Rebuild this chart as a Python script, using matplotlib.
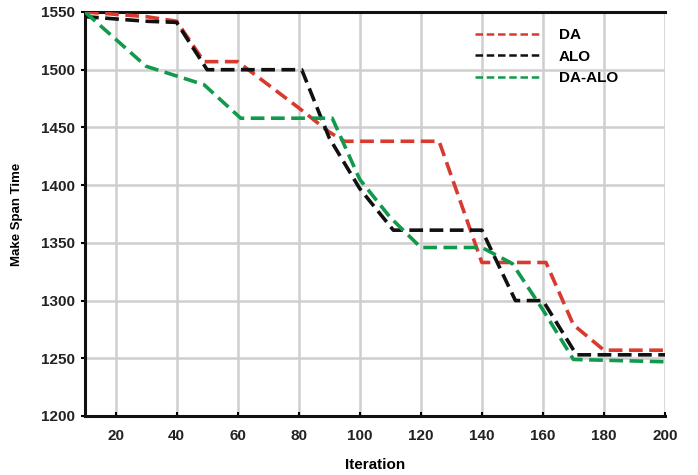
import matplotlib
matplotlib.use("Agg")
import matplotlib.pyplot as plt

plt.rcParams['font.family'] = ['Liberation Sans', 'DejaVu Sans']

# DA series (corners)
da_x = [10, 20, 30, 40, 49, 60, 70, 80, 90, 95, 126, 140, 161, 170, 180, 200]
da_y = [1550, 1548, 1546, 1542, 1507, 1507, 1487, 1467, 1446, 1438, 1438, 1333, 1333, 1279, 1257, 1257]

# ALO series
alo_x = [10, 20, 30, 40, 50, 81, 90, 100, 111, 140, 151, 160, 171, 200]
alo_y = [1546, 1544, 1542, 1541, 1500, 1500, 1441, 1397, 1361, 1361, 1300, 1300, 1253, 1253]

# DA-ALO series
daalo_x = [10, 30, 49, 61, 91, 100, 110, 120, 140, 150, 160, 170, 200]
daalo_y = [1550, 1503, 1487, 1458, 1458, 1405, 1372, 1346, 1346, 1332, 1292, 1249, 1247]

series_labels = ["DA", "ALO", "DA-ALO"]
series_colors = ["#d93a2f", "#111111", "#119a4c"]

x_ticks = [20, 40, 60, 80, 100, 120, 140, 160, 180, 200]
y_ticks = [1200, 1250, 1300, 1350, 1400, 1450, 1500, 1550]

fig = plt.figure(figsize=(6.98, 4.75), dpi=100)
ax = fig.add_axes([85/698, 1-416/475, 580/698, 404/475])

for xs, ys, lab, col in zip([da_x, alo_x, daalo_x], [da_y, alo_y, daalo_y],
                            series_labels, series_colors):
    ax.plot(xs, ys, color=col, linewidth=2.6, linestyle=(0, (3.8, 1.8)),
            label=lab, solid_capstyle='butt', dash_capstyle='butt', zorder=3)

ax.set_xlim(10, 200)
ax.set_ylim(1200, 1550)
ax.set_xticks(x_ticks)
ax.set_yticks(y_ticks)
ax.set_xticklabels([str(t) for t in x_ticks], fontsize=11, fontweight='bold', color='#222222')
ax.set_yticklabels([str(t) for t in y_ticks], fontsize=11, fontweight='bold', color='#222222')
ax.tick_params(axis='x', direction='in', length=3, width=1.5, pad=9)
ax.tick_params(axis='y', direction='out', length=3, width=1.5, pad=4)

ax.grid(True, color='#cfcfcf', linewidth=1.8, zorder=0)
ax.set_axisbelow(True)

for s in ['left', 'bottom', 'top']:
    ax.spines[s].set_color('#111111')
    ax.spines[s].set_linewidth(2.2)
ax.spines['right'].set_visible(False)

ax.set_xlabel("Iteration", fontsize=11, fontweight='bold', labelpad=11)
ax.set_ylabel("Make Span Time", fontsize=9.5, fontweight='bold', labelpad=13)

leg = ax.legend(loc='upper left', bbox_to_anchor=((475-85)/580, (416-28)/404),
                frameon=False, prop={'weight': 'bold', 'size': 11},
                handlelength=4.2, handletextpad=1.3, labelspacing=0.5,
                borderpad=0, borderaxespad=0)
for ln in leg.get_lines():
    ln.set_linewidth(1.8)
    ln.set_linestyle((0, (3, 1.5)))

fig.savefig("out.png", dpi=100, facecolor='white')
